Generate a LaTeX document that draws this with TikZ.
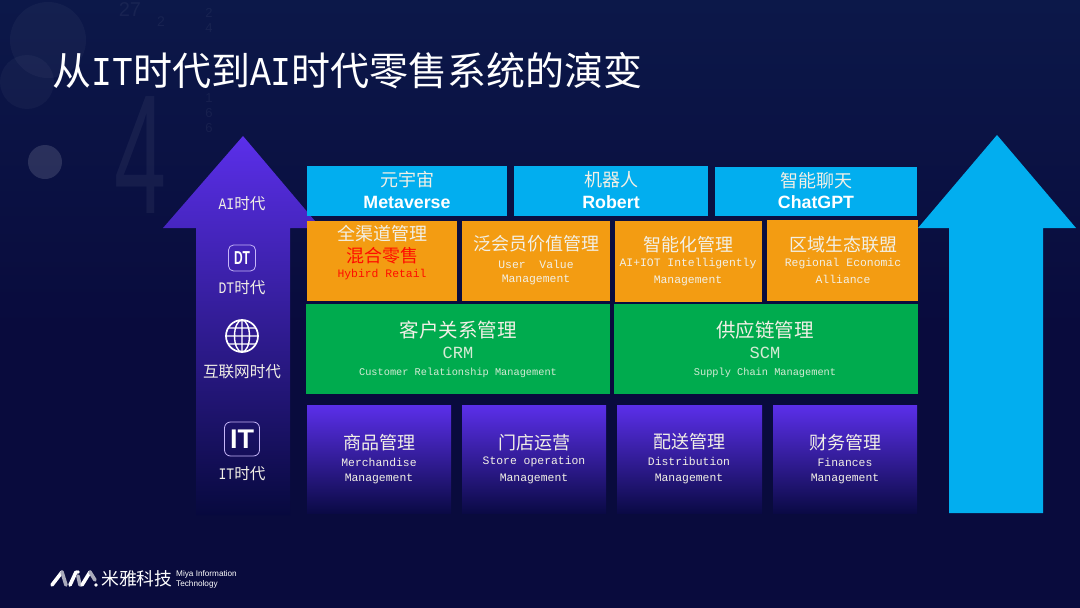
\documentclass[tikz,border=0pt]{standalone}
\usepackage{fontspec}
\setmainfont{Liberation Mono}
\newfontfamily\cjk{Noto Sans CJK SC}
\newfontfamily\arialf{Liberation Sans}
\definecolor{bgA}{HTML}{090B3D}
\definecolor{bgT}{HTML}{0C1849}
\definecolor{skyb}{HTML}{02AEEF}
\definecolor{orng}{HTML}{F39C12}
\definecolor{grn}{HTML}{00AB4E}
\definecolor{purp}{HTML}{5B2FEA}
\definecolor{purpm}{HTML}{2A1E98}
\definecolor{purpd}{HTML}{0A0A45}
\definecolor{arrd}{HTML}{07093E}
\definecolor{txtc}{HTML}{F2F0E6}
\definecolor{grnt}{HTML}{D5EBD5}
\tikzset{
  zh/.style={font=\cjk\fontsize{18}{20}\selectfont,text=txtc,inner sep=0pt},
  zhg/.style={font=\cjk\fontsize{19.5}{22}\selectfont,text=txtc,inner sep=0pt},
  en/.style={font=\fontsize{11.4}{13}\selectfont,text=txtc,inner sep=0pt},
  eng/.style={font=\fontsize{10.3}{13}\selectfont,text=grnt,inner sep=0pt},
  abbr/.style={font=\fontsize{17}{19}\selectfont,text=grnt,inner sep=0pt},
  era/.style={font=\cjk\fontsize{15.6}{18}\selectfont,text=txtc,inner sep=0pt},
  bold/.style={font=\arialf\bfseries\fontsize{17.8}{20}\selectfont,text=white,inner sep=0pt},
  icon/.style={draw=white!65!purp,line width=.8pt,inner sep=0pt,text=white},
  fillbox/.style={inner sep=0pt,outer sep=0pt,draw=none,anchor=north west},
  faint/.style={text=white,inner sep=0pt,font=\arialf\fontsize{#1}{#1}\selectfont,opacity=.05},
  logosmall/.style={inner sep=0pt,anchor=west,text=white,font=\arialf\fontsize{8.2}{8.2}\selectfont},
}
\newcommand{\fbx}[6]{\node[fillbox,fill=#6,minimum width=#3-#1,minimum height=#4-#2] (#5) at (#1,#2) {};}
\newcommand{\sbx}[5]{\node[fillbox,top color=purp,bottom color=purpd,minimum width=#3-#1,minimum height=#4-#2] (#5) at (#1,#2) {};}
\newcommand{\latE}[1]{\scalebox{.82}[1]{\rmfamily\fontsize{16}{18}\selectfont #1}}
\newcommand{\latT}[1]{\scalebox{.85}[1]{\rmfamily\fontsize{41}{44}\selectfont #1}}
\begin{document}
\begin{tikzpicture}[x=1pt,y=-1pt]
\useasboundingbox (0,0) rectangle (1080,608);
\fill[bgA] (0,0) rectangle (1080,608);
\shade[top color=bgT,bottom color=bgA] (0,0) rectangle (1080,330);
% faint background
\fill[white,opacity=.035] (48,40) circle (38);
\fill[white,opacity=.035] (27,82) circle (27);
\fill[white,opacity=.13] (45,162) circle (17);
\node[faint=170] (bgfour) at (140,155) {\scalebox{.55}[1]{4}};
\node[faint=20] (bgA1) at (130,10) {27};
\node[faint=14] (bgA2) at (161,22) {2};
\node[faint=13,align=center,font=\arialf\fontsize{13}{15}\selectfont] (bgA3) at (209,20) {2\\4};
\node[faint=13,align=center,font=\arialf\fontsize{13}{15}\selectfont] (bgA4) at (209,113) {1\\6\\6};
% title
\node[inner sep=0pt,anchor=west,text=white,font=\cjk\fontsize{39}{44}\selectfont] (title) at (52,71) {从\latT{IT}时代到\latT{AI}时代零售系统的演变};
% arrows
\shade[top color=purp,middle color=purpm,bottom color=arrd]
  (243,136) -- (315,221) -- (308,228) -- (290,228) -- (290,515) -- (196,515) -- (196,228) -- (163,228) -- cycle;
\fill[skyb] (997,135) -- (1076,228) -- (1043,228) -- (1043,513) -- (949,513) -- (949,228) -- (918,228) -- cycle;
% top row
\fbx{307}{166}{507}{216}{metaB}{skyb}
\fbx{514}{166}{708}{216}{robotB}{skyb}
\fbx{715}{167}{917}{216}{chatB}{skyb}
\node[zh] (metaZ) at (407,180) {元宇宙};
\node[bold] (metaE) at (407,202) {Metaverse};
\node[zh] (robotZ) at (611,180) {机器人};
\node[bold] (robotE) at (611,202) {Robert};
\node[zh] (chatZ) at (816,181) {智能聊天};
\node[bold] (chatE) at (816,202) {ChatGPT};
% orange row
\fbx{307}{221}{457}{301}{oA}{orng}
\fbx{462}{221}{610}{301}{oB}{orng}
\fbx{615}{221}{762}{302}{oC}{orng}
\fbx{767}{220}{918}{301}{oD}{orng}
\node[zh] (oA1) at (382,234) {全渠道管理};
\node[zh,text=red!90!orange] (oA2) at (382,256) {混合零售};
\node[en,text=red!90!orange] (oA3) at (382,275) {Hybird Retail};
\node[zh] (oB1) at (536,244) {泛会员价值管理};
\node[en] (oB2) at (536,264) {User\ \ Value};
\node[en] (oB3) at (536,280) {Management};
\node[zh] (oC1) at (688,245) {智能化管理};
\node[en] (oC2) at (688,264) {AI+IOT Intelligently};
\node[en] (oC3) at (688,281) {Management};
\node[zh] (oD1) at (843,245) {区域生态联盟};
\node[en] (oD2) at (843,264) {Regional Economic};
\node[en] (oD3) at (843,279) {Alliance};
% green row
\fbx{306}{304}{610}{394}{gA}{grn}
\fbx{614}{304}{918}{394}{gB}{grn}
\node[zhg] (gA1) at (458,330) {客户关系管理};
\node[abbr] (gA2) at (458,353) {CRM};
\node[eng] (gA3) at (458,373) {Customer Relationship Management};
\node[zhg] (gB1) at (765,330) {供应链管理};
\node[abbr] (gB2) at (765,353) {SCM};
\node[eng] (gB3) at (765,373) {Supply Chain Management};
% purple row
\sbx{307}{405}{451}{513}{pA}
\sbx{462}{405}{606}{513}{pB}
\sbx{617}{405}{762}{513}{pC}
\sbx{773}{405}{917}{513}{pD}
\node[zh] (pA1) at (379,443) {商品管理};
\node[en] (pA2) at (379,462) {Merchandise};
\node[en] (pA3) at (379,479) {Management};
\node[zh] (pB1) at (534,443) {门店运营};
\node[en] (pB2) at (534,462) {Store operation};
\node[en] (pB3) at (534,479) {Management};
\node[zh] (pC1) at (689,442) {配送管理};
\node[en] (pC2) at (689,461) {Distribution};
\node[en] (pC3) at (689,479) {Management};
\node[zh] (pD1) at (845,443) {财务管理};
\node[en] (pD2) at (845,462) {Finances};
\node[en] (pD3) at (845,479) {Management};
% era labels
\node[era] (eAI) at (242,204) {\latE{AI}时代};
\node[icon,rounded corners=5pt,minimum width=27pt,minimum height=26pt,font=\arialf\bfseries\fontsize{15}{15}\selectfont] (iDT) at (242,258) {\scalebox{.8}[1.25]{DT}};
\node[era] (eDT) at (242,288) {\latE{DT}时代};
\draw[white,line width=1.7pt] (242,336) circle (16);
\draw[white,line width=1.4pt] (242,336) ellipse (7.5 and 16) (242,320) -- (242,352) (226,336) -- (258,336)
  (228.5,328) -- (255.5,328) (228.5,344) -- (255.5,344);
\node[era] (eNet) at (242,372) {互联网时代};
\node[icon,rounded corners=6pt,minimum width=35pt,minimum height=34pt,font=\arialf\bfseries\fontsize{27}{27}\selectfont] (iIT) at (242,439) {IT};
\node[era] (eIT) at (242,474) {\latE{IT}时代};
% logo
\begin{scope}[line width=3.6pt,line cap=round,white]
\draw (52,585) -- (62,572);
\draw[white!65!bgA] (62,572) -- (66,585);
\draw (70,585) -- (76,572);
\draw[white!65!bgA] (78,576) -- (80,585);
\fill (78,572) circle (1.8);
\draw (82,585) -- (90,572);
\draw[white!65!bgA] (90,572) -- (95,580);
\fill (96,585) circle (1.8);
\end{scope}
\node[inner sep=0pt,anchor=west,text=white,font=\cjk\fontsize{17.8}{20}\selectfont] (logoZ) at (101,579) {米雅科技};
\node[logosmall] (logoE1) at (176,574) {Miya Information};
\node[logosmall] (logoE2) at (176,584) {Technology};
\end{tikzpicture}
\end{document}
